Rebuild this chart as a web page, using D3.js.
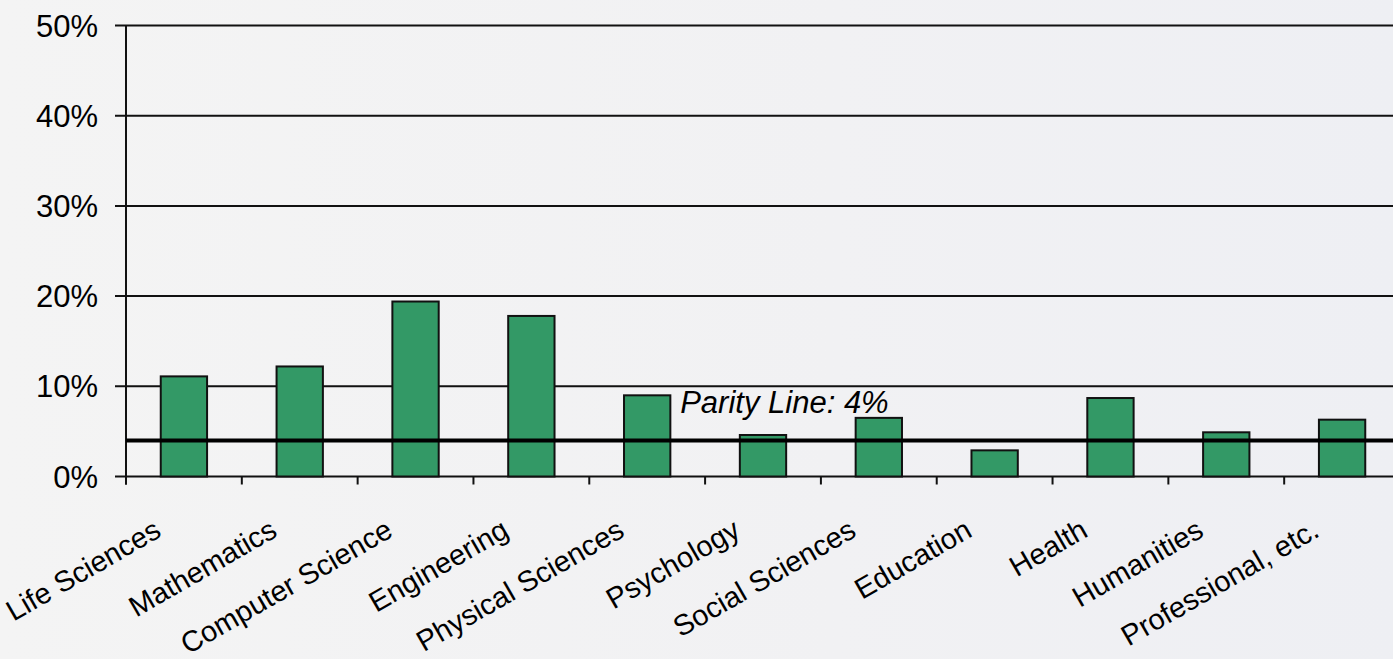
<!DOCTYPE html>
<html>
<head>
<meta charset="utf-8">
<script src="https://cdn.jsdelivr.net/npm/d3@7/dist/d3.min.js"></script>
<style>
  html, body { margin: 0; padding: 0; overflow: hidden; }
  svg { display: block; font-family: "Liberation Sans", Arial, sans-serif; }
</style>
</head>
<body>
<svg id="chart" width="1393" height="659"></svg>
<script>
// Share of each field (percent)
const categories = ["Life Sciences", "Mathematics", "Computer Science", "Engineering",
  "Physical Sciences", "Psychology", "Social Sciences", "Education", "Health",
  "Humanities", "Professional, etc."];
const values = [11.1, 12.2, 19.4, 17.8, 9.0, 4.6, 6.5, 2.9, 8.7, 4.9, 6.3];
const yTicks = [0, 10, 20, 30, 40, 50];
const parityValue = 4;
const parityLabel = "Parity Line: 4%";

const W = 1393, H = 659;
const plotLeft = 126, plotRight = 1400, plotTop = 25.5, plotBottom = 476.5;

const svg = d3.select("#chart");

// soft grey backdrop
const defs = svg.append("defs");
const grad = defs.append("linearGradient").attr("id", "bg")
  .attr("x1", "0").attr("y1", "0").attr("x2", "1").attr("y2", "0");
grad.append("stop").attr("offset", "0").attr("stop-color", "#f4f4f4");
grad.append("stop").attr("offset", "0.6").attr("stop-color", "#f1f1f3");
grad.append("stop").attr("offset", "1").attr("stop-color", "#eeeff3");
svg.append("rect").attr("width", W).attr("height", H).attr("fill", "url(#bg)");

const x = d3.scaleBand().domain(categories).range([plotLeft, plotRight]).padding(0);
const y = d3.scaleLinear().domain([0, 50]).range([plotBottom, plotTop]);

// horizontal gridlines (with the short tick stub to the left of the axis)
svg.append("g").selectAll("line").data(yTicks).join("line")
  .attr("x1", plotLeft - 11).attr("x2", plotRight)
  .attr("y1", d => y(d)).attr("y2", d => y(d))
  .attr("stroke", "#111").attr("stroke-width", 2);

// y tick labels
svg.append("g").selectAll("text").data(yTicks).join("text")
  .attr("x", 98).attr("y", d => y(d))
  .attr("dy", "0.36em")
  .attr("text-anchor", "end")
  .attr("font-size", 31)
  .attr("fill", "#000")
  .text(d => d + "%");

// y axis line
svg.append("line")
  .attr("x1", plotLeft).attr("x2", plotLeft)
  .attr("y1", y(50)).attr("y2", plotBottom + 8)
  .attr("stroke", "#111").attr("stroke-width", 2);

// x tick marks at band boundaries
const bounds = categories.map(c => x(c)).concat([plotRight]);
svg.append("g").selectAll("line").data(bounds).join("line")
  .attr("x1", d => d).attr("x2", d => d)
  .attr("y1", plotBottom).attr("y2", plotBottom + 8)
  .attr("stroke", "#111").attr("stroke-width", 2);

// bars
const barW = x.bandwidth() * 0.4;
svg.append("g").selectAll("rect").data(values).join("rect")
  .attr("x", (d, i) => x(categories[i]) + (x.bandwidth() - barW) / 2)
  .attr("y", d => y(d))
  .attr("width", barW)
  .attr("height", d => y(0) - y(d))
  .attr("fill", "#339966")
  .attr("stroke", "#111")
  .attr("stroke-width", 2);

// parity line
svg.append("line")
  .attr("x1", plotLeft).attr("x2", plotRight)
  .attr("y1", y(parityValue)).attr("y2", y(parityValue))
  .attr("stroke", "#000").attr("stroke-width", 4);

svg.append("text")
  .attr("x", x("Physical Sciences") + x.bandwidth() * 0.785)
  .attr("y", 413)
  .attr("font-size", 31)
  .attr("font-style", "italic")
  .attr("fill", "#000")
  .text(parityLabel);

// rotated category labels
svg.append("g").selectAll("text").data(categories).join("text")
  .attr("transform", d => `translate(${x(d) + x.bandwidth() / 2 - 21},${plotBottom + 59}) rotate(-30)`)
  .attr("text-anchor", "end")
  .attr("font-size", 29)
  .attr("fill", "#000")
  .text(d => d);
</script>
</body>
</html>
